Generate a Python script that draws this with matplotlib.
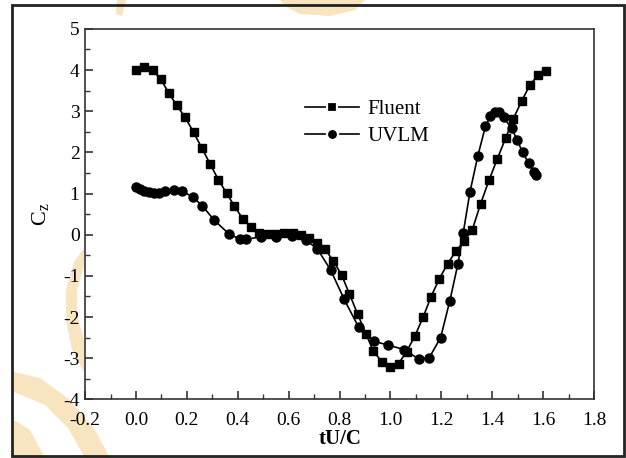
import matplotlib
matplotlib.use("Agg")
import matplotlib.pyplot as plt
from matplotlib.ticker import MultipleLocator
from matplotlib.patches import Rectangle, Polygon
from matplotlib.lines import Line2D

plt.rcParams['font.family'] = ['Liberation Serif', 'DejaVu Serif']
plt.rcParams['mathtext.fontset'] = 'custom'
plt.rcParams['mathtext.rm'] = 'Liberation Serif'
plt.rcParams['mathtext.it'] = 'Liberation Serif:italic'

fluent_x = [0.0, 0.032, 0.065, 0.097, 0.128, 0.160, 0.193, 0.226, 0.259, 0.291,
            0.324, 0.356, 0.386, 0.419, 0.451, 0.484, 0.517, 0.550, 0.582, 0.615,
            0.648, 0.679, 0.712, 0.742, 0.775, 0.808, 0.838, 0.871, 0.903, 0.932,
            0.966, 0.999, 1.032, 1.063, 1.096, 1.129, 1.159, 1.191, 1.225, 1.257,
            1.290, 1.321, 1.354, 1.387, 1.419, 1.452, 1.482, 1.515, 1.548, 1.581, 1.611]
fluent_y = [4.00, 4.08, 4.00, 3.78, 3.45, 3.14, 2.85, 2.49, 2.10, 1.72,
            1.33, 1.01, 0.70, 0.39, 0.19, 0.05, 0.01, 0.01, 0.05, 0.05,
            -0.01, -0.09, -0.19, -0.35, -0.63, -0.98, -1.43, -1.93, -2.40, -2.82,
            -3.09, -3.22, -3.13, -2.84, -2.46, -1.99, -1.51, -1.08, -0.70, -0.40,
            -0.15, 0.11, 0.75, 1.32, 1.83, 2.34, 2.81, 3.24, 3.64, 3.88, 3.98]

uvlm_x = [0.0, 0.015, 0.032, 0.05, 0.071, 0.091, 0.113, 0.149, 0.181, 0.222,
          0.261, 0.306, 0.365, 0.408, 0.434, 0.493, 0.552, 0.614, 0.669, 0.712,
          0.765, 0.818, 0.875, 0.934, 0.991, 1.053, 1.111, 1.151, 1.197, 1.233,
          1.265, 1.286, 1.312, 1.343, 1.373, 1.392, 1.410, 1.426, 1.445, 1.476,
          1.497, 1.519, 1.544, 1.563, 1.571]
uvlm_y = [1.17, 1.11, 1.07, 1.04, 1.02, 1.02, 1.05, 1.09, 1.06, 0.92,
          0.70, 0.36, 0.02, -0.11, -0.11, -0.05, -0.05, -0.03, -0.14, -0.34,
          -0.86, -1.57, -2.25, -2.59, -2.68, -2.79, -3.02, -3.00, -2.50, -1.61,
          -0.71, 0.05, 1.03, 1.91, 2.63, 2.88, 2.97, 2.97, 2.85, 2.58,
          2.31, 2.00, 1.73, 1.52, 1.45]

W, H = 626, 458
fig = plt.figure(figsize=(6.26, 4.58), dpi=100)

def px(points):
    return [(x / W, 1 - y / H) for x, y in points]

# faint watermark decorations (background, behind everything)
wm = '#f8e4bf'
shapes = [
    [(280, 0), (365, 0), (355, 10), (330, 16), (300, 14), (285, 6)],
    [(117, 0), (126, 0), (122, 16), (116, 14)],
    [(84, 248), (74, 262), (66, 290), (66, 320), (72, 350), (84, 372),
     (84, 340), (77, 315), (77, 290), (84, 266)],
    [(14, 372), (40, 378), (70, 400), (95, 430), (110, 458), (85, 458),
     (68, 428), (45, 405), (14, 392)],
    [(14, 420), (30, 430), (45, 458), (14, 458)],
]
for pts in shapes:
    fig.patches.append(Polygon(px(pts), closed=True, transform=fig.transFigure,
                               facecolor=wm, edgecolor='none', zorder=-10))

ax = fig.add_axes([0.136, 0.128, 0.813, 0.809])
ax.set_zorder(5)
ax.patch.set_facecolor('white')

# outer frame
fig.patches.append(Rectangle((0.019, 0.005), 0.978, 0.984, transform=fig.transFigure,
                             fill=False, edgecolor='#222222', linewidth=2.0, zorder=1))

ax.plot(fluent_x, fluent_y, color='black', linewidth=1.2, marker='s',
        markersize=6, label='Fluent')
ax.plot(uvlm_x, uvlm_y, color='black', linewidth=1.2, marker='o',
        markersize=6.5, label='UVLM')

ax.set_xlim(-0.2, 1.8)
ax.set_ylim(-4, 5)
ax.xaxis.set_minor_locator(MultipleLocator(0.1))
ax.yaxis.set_minor_locator(MultipleLocator(0.5))
ax.set_xticks([-0.2, 0.0, 0.2, 0.4, 0.6, 0.8, 1.0, 1.2, 1.4, 1.6, 1.8])
ax.set_xticklabels(['-0.2', '0.0', '0.2', '0.4', '0.6', '0.8', '1.0', '1.2', '1.4', '1.6', '1.8'])
ax.set_yticks([-4, -3, -2, -1, 0, 1, 2, 3, 4, 5])
ax.set_yticklabels(['-4', '-3', '-2', '-1', '0', '1', '2', '3', '4', '5'])
ax.tick_params(which='both', direction='in', top=False, right=False, labelsize=14,
               color='#333333')
ax.tick_params(which='major', length=6, width=1.2)
ax.tick_params(axis='x', which='major', pad=9)
ax.tick_params(axis='y', which='major', pad=4)
ax.tick_params(which='minor', length=3.5, width=1.0)
for s in ax.spines.values():
    s.set_linewidth(1.2)
    s.set_color('#333333')

ax.set_xlabel('tU/C', fontsize=15, fontweight='bold', labelpad=0)
ax.set_ylabel(r'C$_\mathregular{z}$', fontsize=16, labelpad=9)

h1 = Line2D([], [], color='black', linewidth=1.2, marker='s', markersize=7.5,
            markeredgecolor='white', markerfacecolor='black', markeredgewidth=1.6)
h2 = Line2D([], [], color='black', linewidth=1.2, marker='o', markersize=8,
            markeredgecolor='white', markerfacecolor='black', markeredgewidth=1.6)
leg = ax.legend([h1, h2], ['Fluent', 'UVLM'], loc='upper left',
                bbox_to_anchor=(0.395, 0.86), frameon=False,
                fontsize=15, handlelength=2.6, handletextpad=0.4, labelspacing=0.35)

fig.savefig('out.png', dpi=100)
